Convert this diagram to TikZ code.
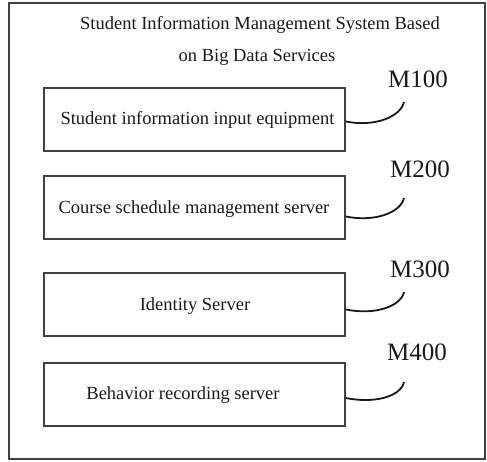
\documentclass[tikz,border=0pt]{standalone}
\usepackage{fontspec}
\setmainfont{Liberation Serif}
\begin{document}
\begin{tikzpicture}[x=1pt,y=-1pt,
  frameline/.style={draw=black!75,line width=1.6pt},
  modbox/.style={draw=black!75,line width=1.6pt,minimum width=301pt,minimum height=63pt,inner sep=0pt},
  boxtext/.style={font=\fontsize{18.5}{22}\selectfont,anchor=base,inner sep=0pt,text=black!90},
  reflabel/.style={font=\fontsize{25}{28}\selectfont,anchor=base west,inner sep=0pt,text=black!90},
  leader/.style={draw=black!90,line width=1.8pt}]
\useasboundingbox (0,0) rectangle (487,461);
\draw[frameline] (9,3) rectangle (485,459);
\node[boxtext] (t1) at (260,29) {Student Information Management System Based};
\node[boxtext] (t2) at (257,61) {on Big Data Services};
% boxes
\node[modbox] (b1) at (194.5,119.5) {};
\node[modbox] (b2) at (194.5,207.5) {};
\node[modbox] (b3) at (194.5,304.5) {};
\node[modbox] (b4) at (194.5,394.5) {};
\node[boxtext] (l1) at (197.5,124.5) {Student information input equipment};
\node[boxtext] (l2) at (194,213) {Course schedule management server};
\node[boxtext] (l3) at (195,310.5) {Identity Server};
\node[boxtext] (l4) at (183,399) {Behavior recording server};
% reference labels
\node[reflabel] (m1) at (388,87) {M100};
\node[reflabel] (m2) at (390,177) {M200};
\node[reflabel] (m3) at (390,277) {M300};
\node[reflabel] (m4) at (387,360) {M400};
\coordinate (e1) at (404,102);
\coordinate (e2) at (404,198);
\coordinate (e3) at (404,292);
\coordinate (e4) at (404,382);
\draw[leader] ([yshift=-2pt]b1.east) .. controls +(30,6) and +(-3,14) .. (e1);
\draw[leader] ([yshift=-9pt]b2.east) .. controls +(30,6) and +(-3,14) .. (e2);
\draw[leader] ([yshift=-5pt]b3.east) .. controls +(30,6) and +(-3,14) .. (e3);
\draw[leader] ([yshift=-3.5pt]b4.east) .. controls +(30,6) and +(-3,14) .. (e4);
\end{tikzpicture}
\end{document}
